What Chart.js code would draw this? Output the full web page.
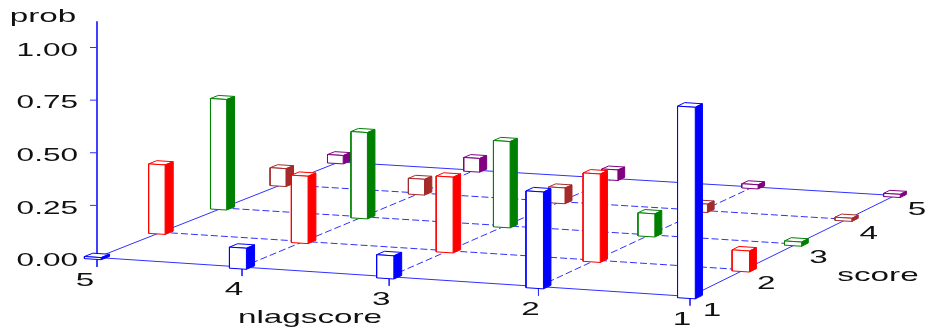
<!DOCTYPE html>
<html>
<head>
<meta charset="utf-8">
<style>
  html, body { margin: 0; padding: 0; background: #fff; }
  canvas { display: block; }
</style>
<script src="https://cdn.jsdelivr.net/npm/chart.js@4"></script>
</head>
<body>
<canvas id="chart" width="930" height="335"></canvas>
<script>
// Data
const nlagCategories = [5, 4, 3, 2, 1];
const scoreCategories = [1, 2, 3, 4, 5];
const probTicks = [0, 0.25, 0.5, 0.75, 1];
const probNlag5 = [0.01, 0.33, 0.525, 0.085, 0.04];
const probNlag4 = [0.10, 0.32, 0.41, 0.075, 0.065];
const probNlag3 = [0.11, 0.36, 0.41, 0.075, 0.05];
const probNlag2 = [0.46, 0.42, 0.11, 0.04, 0.02];
const probNlag1 = [0.91, 0.10, 0.02, 0.015, 0.015];
const probByNlag = { 5: probNlag5, 4: probNlag4, 3: probNlag3, 2: probNlag2, 1: probNlag1 };

const scoreColors = { 1: '#0000ff', 2: '#ff0000', 3: '#008000', 4: '#a52a2a', 5: '#800080' };
const axisColor = '#3030ff';

// Floor of the box on screen, corners (nlag,score): (5,1) (1,1) (1,5) (5,5)
const floorCorners = [[97, 257.5], [690, 296.5], [895, 195.5], [339, 162]];
const baseY = 258;        // screen row of prob 0
const pxPerProb = 210.5;  // screen rows per unit of prob
const halfNlag = 0.058;   // half width of a bar, in nlag units
const halfScore = 0.065;  // half depth of a bar, in score units

// Perspective from the unit square to the floor
function makeHomography(p) {
  const sx = p[0][0] - p[1][0] + p[2][0] - p[3][0];
  const sy = p[0][1] - p[1][1] + p[2][1] - p[3][1];
  const dx1 = p[1][0] - p[2][0], dx2 = p[3][0] - p[2][0];
  const dy1 = p[1][1] - p[2][1], dy2 = p[3][1] - p[2][1];
  const det = dx1 * dy2 - dx2 * dy1;
  const g = (sx * dy2 - dx2 * sy) / det;
  const h = (dx1 * sy - sx * dy1) / det;
  return (u, v) => {
    const w = g * u + h * v + 1;
    return [
      ((p[1][0] - p[0][0] + g * p[1][0]) * u + (p[3][0] - p[0][0] + h * p[3][0]) * v + p[0][0]) / w,
      ((p[1][1] - p[0][1] + g * p[1][1]) * u + (p[3][1] - p[0][1] + h * p[3][1]) * v + p[0][1]) / w
    ];
  };
}
const floorMap = makeHomography(floorCorners);

// (nlag, score, prob) -> point in the units of the chart scales
function project(nlag, score, prob) {
  const q = floorMap((5 - nlag) / 4, (score - 1) / 4);
  return { x: q[0], y: (baseY - q[1]) / pxPerProb + prob };
}

const datasets = [];

function addLine(points, color, dash, width) {
  datasets.push({
    data: points, borderColor: color, borderWidth: width || 1, borderDash: dash || [],
    showLine: true, pointRadius: 0, fill: false, tension: 0, clip: false
  });
}

function addFace(points, stroke, fillColor) {
  datasets.push({
    data: points.concat([points[0]]), borderColor: stroke, borderWidth: 1,
    backgroundColor: fillColor, fill: 'shape',
    showLine: true, pointRadius: 0, tension: 0, clip: false
  });
}

// Floor: solid frame, dashed inner lines
addLine([project(5, 1, 0), project(1, 1, 0)], axisColor);
addLine([project(5, 5, 0), project(1, 5, 0)], axisColor);
addLine([project(5, 1, 0), project(5, 5, 0)], axisColor);
addLine([project(1, 1, 0), project(1, 5, 0)], axisColor);
[2, 3, 4].forEach(s => addLine([project(5, s, 0), project(1, s, 0)], axisColor, [7, 3]));
[2, 3, 4].forEach(n => addLine([project(n, 1, 0), project(n, 5, 0)], axisColor, [7, 3]));

// Prob axis and all tick marks
const axisX = project(5, 1, 0).x;
addLine([{ x: axisX, y: -0.043 }, { x: axisX, y: 1.125 }], '#0000ff', [], 1.5);
probTicks.forEach(t => addLine([{ x: axisX - 7, y: t }, { x: axisX, y: t }], axisColor));
nlagCategories.slice(1).forEach(n => {
  const p = project(n, 1, 0);
  addLine([{ x: p.x, y: p.y - 0.006 }, { x: p.x, y: p.y - 0.043 }], axisColor);
});

// Bars, back to front
[...scoreCategories].reverse().forEach(s => {
  nlagCategories.forEach(n => {
    const prob = probByNlag[n][s - 1];
    const c = scoreColors[s];
    const fl = project(n + halfNlag, s - halfScore, 0), fr = project(n - halfNlag, s - halfScore, 0);
    const br = project(n - halfNlag, s + halfScore, 0);
    const tfl = project(n + halfNlag, s - halfScore, prob), tfr = project(n - halfNlag, s - halfScore, prob);
    const tbr = project(n - halfNlag, s + halfScore, prob), tbl = project(n + halfNlag, s + halfScore, prob);
    addFace([tfl, tfr, tbr, tbl], c, '#ffffff');
    addFace([fr, br, tbr, tfr], c, c);
    addFace([fl, fr, tfr, tfl], c, '#ffffff');
  });
});

datasets.forEach((d, i) => { d.order = -i; });

// The labels of the reference are stretched sideways
function wideText(ctx, text, x, y, align, stretch) {
  ctx.save();
  ctx.translate(x, y);
  ctx.scale(stretch || 1.75, 1);
  ctx.font = '19px "Liberation Sans"';
  ctx.fillStyle = '#111111';
  ctx.textAlign = align || 'center';
  ctx.textBaseline = 'middle';
  ctx.fillText(text, 0, 0);
  ctx.restore();
}

const labelsPlugin = {
  id: 'labels3d',
  afterDatasetsDraw(chart) {
    const { ctx, scales: { x, y } } = chart;
    probTicks.forEach(t => {
      wideText(ctx, t.toFixed(2), 78, y.getPixelForValue(t) + 3, 'right', 1.66);
    });
    nlagCategories.forEach(n => {
      const p = project(n, 1, 0);
      wideText(ctx, String(n), x.getPixelForValue(p.x) - (n === 5 ? 12 : 8), y.getPixelForValue(p.y) + 23);
    });
    scoreCategories.forEach(s => {
      const p = project(1, s, 0);
      wideText(ctx, String(s), x.getPixelForValue(p.x) + 22, y.getPixelForValue(p.y) + 14);
    });
    wideText(ctx, 'prob', 43, 17);
    wideText(ctx, 'nlagscore', 310, 318);
    wideText(ctx, 'score', 878, 276);
  }
};

new Chart(document.getElementById('chart'), {
  type: 'scatter',
  data: { datasets },
  options: {
    responsive: false,
    animation: false,
    layout: { padding: 0 },
    plugins: { legend: { display: false }, tooltip: { enabled: false } },
    scales: {
      x: { type: 'linear', min: 0, max: 930, display: false },
      y: { type: 'linear', min: (baseY - 335) / pxPerProb, max: baseY / pxPerProb, display: false }
    }
  },
  plugins: [labelsPlugin]
});
</script>
</body>
</html>
